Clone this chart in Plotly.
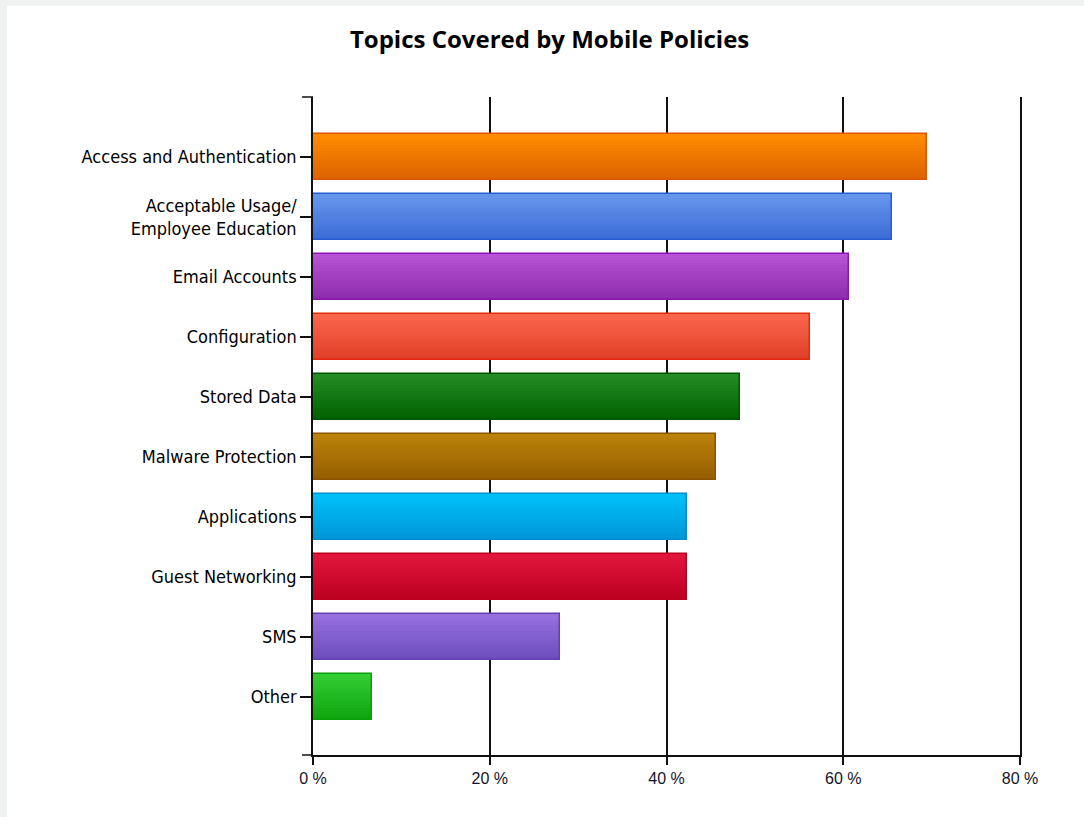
import plotly.graph_objects as go

# Survey results: share of mobile policies covering each topic (%)
categories = [
    "Access and Authentication",
    "Acceptable Usage/<br>Employee Education",
    "Email Accounts",
    "Configuration",
    "Stored Data",
    "Malware Protection",
    "Applications",
    "Guest Networking",
    "SMS",
    "Other",
]
values = [69.5, 65.5, 60.7, 56.2, 48.3, 45.6, 42.3, 42.3, 27.9, 6.7]
x_ticks = [0, 20, 40, 60, 80]
x_tick_labels = ["0 %", "20 %", "40 %", "60 %", "80 %"]

# Per-bar gradient (top, bottom) and outline colours
top_colors = [
    (255, 140, 0), (102, 150, 236), (182, 82, 212), (250, 102, 76), (36, 140, 36),
    (186, 130, 10), (0, 192, 250), (226, 22, 60), (150, 112, 222), (52, 206, 52),
]
bottom_colors = [
    (220, 98, 0), (58, 108, 214), (142, 44, 174), (224, 64, 40), (0, 98, 0),
    (150, 94, 0), (0, 150, 214), (188, 0, 34), (108, 78, 188), (14, 164, 14),
]
edge_colors = [
    "rgb(222,84,0)", "rgb(40,92,210)", "rgb(138,22,178)", "rgb(228,40,12)", "rgb(0,84,0)",
    "rgb(138,84,0)", "rgb(0,140,208)", "rgb(186,0,28)", "rgb(100,62,180)", "rgb(10,158,10)",
]

BAR_W = 0.77
N_STRIPES = 16

fig = go.Figure()
ypos = list(range(len(categories)))

# Vertical gradient built from thin stacked stripes of each bar
for k in range(N_STRIPES):
    t = k / (N_STRIPES - 1)
    cols = [
        "rgb({},{},{})".format(*[round(a + (b - a) * t) for a, b in zip(tc, bc)])
        for tc, bc in zip(top_colors, bottom_colors)
    ]
    fig.add_trace(go.Bar(
        x=values, y=ypos, orientation="h",
        width=BAR_W / N_STRIPES * 1.02,
        offset=-BAR_W / 2 + k * BAR_W / N_STRIPES,
        marker=dict(color=cols, line=dict(width=0)),
        hoverinfo="skip", showlegend=False,
    ))

# Outline of each bar
fig.add_trace(go.Bar(
    x=values, y=ypos, orientation="h", width=BAR_W,
    marker=dict(color="rgba(0,0,0,0)", line=dict(color=edge_colors, width=1.5)),
    customdata=[c.replace("<br>", " ") for c in categories],
    hovertemplate="%{customdata}: %{x}%<extra></extra>",
    showlegend=False,
))

# Short stubs where the axes meet the outer corners (left of the plot area)
for yv in (0, 1):
    fig.add_shape(
        type="line", xref="paper", yref="paper",
        xsizemode="pixel", xanchor=0, x0=-11, x1=0, y0=yv, y1=yv,
        line=dict(color="#111", width=1.5),
    )

# Thin grey page edge along the top and left
fig.add_shape(type="rect", xref="paper", yref="paper", xsizemode="pixel", xanchor=0,
              x0=-313, x1=-306, y0=-1, y1=2, line=dict(width=0), fillcolor="#f0f1f1",
              layer="below")
fig.add_shape(type="rect", xref="paper", yref="paper", ysizemode="pixel", yanchor=1,
              x0=-1, x1=2, y0=91, y1=97, line=dict(width=0), fillcolor="#f0f1f1",
              layer="below")

fig.update_layout(
    width=1084, height=817,
    margin=dict(l=313, r=64, t=97, b=62),
    paper_bgcolor="white", plot_bgcolor="white",
    barmode="overlay", bargap=0,
    title=dict(
        text="<b>Topics Covered by Mobile Policies</b>",
        x=0.507, xanchor="center", y=0.952, yanchor="middle",
        font=dict(family="Open Sans, Noto Sans, sans-serif", size=24, color="#000"),
    ),
    xaxis=dict(
        range=[0, 80], tickvals=x_ticks, ticktext=x_tick_labels,
        showgrid=True, gridcolor="#111", gridwidth=1.5,
        zeroline=False, showline=True, linecolor="#111", linewidth=1.5,
        ticks="outside", ticklen=8, tickcolor="#111", tickwidth=1.5,
        tickfont=dict(family="Liberation Sans, Arial, sans-serif", size=16, color="#141428"),
        fixedrange=True,
    ),
    yaxis=dict(
        range=[9.97, -1.0],
        tickvals=ypos, ticktext=categories,
        showgrid=False, zeroline=False,
        showline=True, mirror=True, linecolor="#111", linewidth=1.5,
        ticks="outside", ticklen=11, tickcolor="#111", tickwidth=1.5,
        tickfont=dict(family="Liberation Sans Narrow, DejaVu Sans Condensed, sans-serif",
                      size=18, color="#000"),
        ticklabelstandoff=0,
        fixedrange=True,
    ),
)

fig.write_html("out.html")
